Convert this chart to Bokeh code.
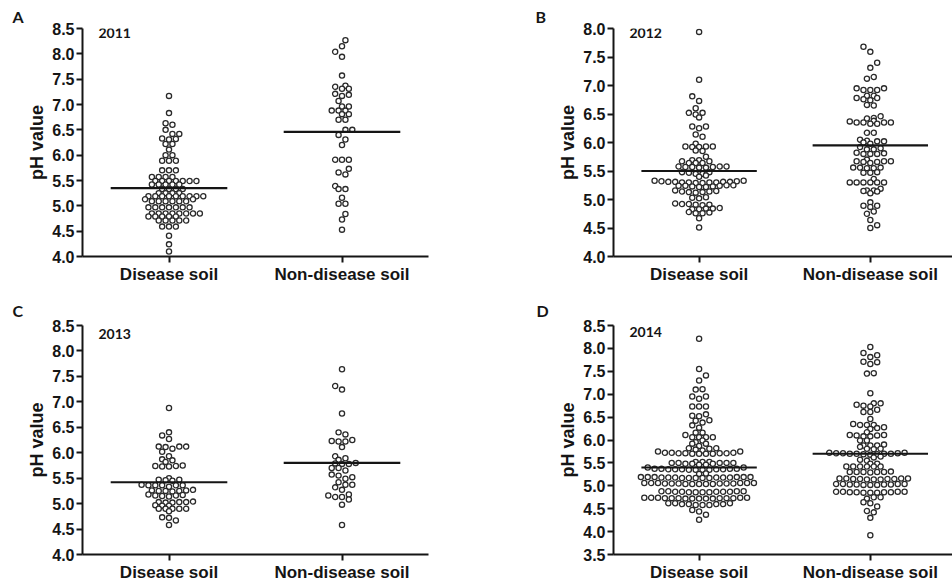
import numpy as np
from bokeh.plotting import figure
from bokeh.layouts import gridplot
from bokeh.models import FixedTicker, Label, Range1d, PrintfTickFormatter
from bokeh.embed import file_html
from bokeh.resources import INLINE

# ---------------- data ----------------
categories = ["Disease soil", "Non-disease soil"]
panel_letters = ["A", "B", "C", "D"]
years = ["2011", "2012", "2013", "2014"]

ph_2011_disease = [
    7.17, 6.83, 6.63, 6.60, 6.50, 6.42, 6.42, 6.33, 6.32, 6.31, 6.22, 6.22, 6.11,
    6.00, 6.00, 5.89, 5.89, 5.89, 5.70, 5.70, 5.70,
    5.57, 5.57, 5.57, 5.57,
    5.49, 5.49, 5.49, 5.49, 5.49, 5.49, 5.49,
    5.42, 5.42, 5.42, 5.42, 5.42,
    5.33, 5.33, 5.33, 5.33,
    5.25, 5.25, 5.25, 5.25,
    5.19, 5.19, 5.19, 5.19, 5.19, 5.19, 5.19, 5.19, 5.19,
    5.13, 5.13,
    5.09, 5.09, 5.09, 5.09, 5.09, 5.09,
    4.97, 4.97, 4.97, 4.97, 4.97, 4.97, 4.97,
    4.85, 4.85, 4.85, 4.85, 4.85, 4.85, 4.85, 4.85,
    4.79, 4.79, 4.79, 4.79, 4.79,
    4.71, 4.71, 4.71, 4.71, 4.71,
    4.59, 4.59, 4.59,
    4.41, 4.24, 4.10,
]
ph_2011_nondisease = [
    8.27, 8.15, 8.04, 7.94, 7.57, 7.37, 7.35, 7.31, 7.31, 7.21, 7.19, 7.17, 7.07,
    6.96, 6.96, 6.88, 6.88, 6.88, 6.81, 6.81, 6.70, 6.70, 6.50, 6.50, 6.40, 6.31,
    6.20, 5.91, 5.91, 5.91, 5.73, 5.66, 5.62, 5.39, 5.33, 5.33, 5.16, 5.04, 5.04,
    4.84, 4.73, 4.53,
]
ph_2012_disease = [
    7.94, 7.10, 6.81, 6.73, 6.60, 6.52, 6.52, 6.49, 6.44, 6.28, 6.28, 6.25, 6.14,
    6.10, 5.98,
    5.93, 5.93, 5.93, 5.92, 5.92, 5.86, 5.85,
    5.75,
    5.69, 5.69, 5.67, 5.67, 5.64, 5.64, 5.64,
    5.58, 5.58, 5.57, 5.57, 5.57, 5.56, 5.56, 5.58,
    5.48, 5.48, 5.47, 5.45, 5.45, 5.42, 5.40,
    5.33, 5.33, 5.32, 5.32, 5.31, 5.31, 5.31, 5.31, 5.30, 5.30, 5.30, 5.30, 5.29, 5.29,
    5.25, 5.25, 5.24, 5.24, 5.24, 5.23, 5.23, 5.22, 5.22,
    5.16, 5.15, 5.14, 5.14, 5.13, 5.13, 5.12,
    5.04, 5.03, 5.02,
    4.93, 4.92, 4.92, 4.91, 4.91, 4.90,
    4.85, 4.84, 4.84, 4.83, 4.83,
    4.78, 4.77, 4.76, 4.76,
    4.67, 4.51,
]
ph_2012_nondisease = [
    7.68, 7.59, 7.40, 7.31, 7.15, 7.12,
    6.95, 6.95, 6.92, 6.92, 6.92,
    6.82, 6.82, 6.78, 6.78, 6.76, 6.74,
    6.66, 6.65, 6.46,
    6.43, 6.42, 6.38, 6.37, 6.35, 6.35, 6.35, 6.35, 6.33, 6.33,
    6.17, 6.17,
    6.05, 6.03, 6.02, 6.02, 6.00, 5.98,
    5.92, 5.90, 5.88, 5.88,
    5.82, 5.81, 5.80, 5.80, 5.80,
    5.70, 5.67, 5.67, 5.67, 5.66, 5.66, 5.64,
    5.56, 5.56, 5.56, 5.55, 5.55,
    5.48, 5.47, 5.47,
    5.36, 5.30, 5.30, 5.30, 5.30, 5.30, 5.30,
    5.19, 5.16, 5.16, 5.15, 5.14, 5.11,
    4.95, 4.89, 4.89, 4.87,
    4.79, 4.75, 4.64, 4.55, 4.50,
]
ph_2013_disease = [
    6.88, 6.40, 6.34, 6.27,
    6.12, 6.12, 6.11, 6.12, 6.08, 6.02,
    5.93,
    5.87, 5.85, 5.82, 5.75, 5.74, 5.74, 5.73, 5.73,
    5.50, 5.47, 5.47, 5.46, 5.45,
    5.37, 5.36, 5.36, 5.36, 5.36, 5.36, 5.33,
    5.27, 5.26, 5.26, 5.25, 5.25, 5.25, 5.24,
    5.18, 5.17, 5.16, 5.16, 5.15, 5.14,
    5.04, 5.03, 5.03, 5.03, 5.02, 5.02,
    4.97, 4.96, 4.96,
    4.90, 4.90, 4.90, 4.90, 4.90,
    4.85,
    4.73, 4.72, 4.67,
    4.58,
]
ph_2013_nondisease = [
    7.64, 7.31, 7.24, 6.77, 6.40, 6.36, 6.25, 6.23, 6.22, 6.22, 6.11, 5.93, 5.89,
    5.86, 5.80, 5.79, 5.78, 5.78, 5.70, 5.70, 5.65, 5.57, 5.55, 5.52, 5.49, 5.42,
    5.37, 5.37, 5.32, 5.27, 5.18, 5.16, 5.13, 5.13, 5.08, 4.98, 4.58,
]
ph_2014_disease = [
    8.21, 7.55, 7.41, 7.30, 7.11, 7.10, 6.95, 6.95, 6.90, 6.73, 6.73, 6.73, 6.56,
    6.53, 6.52, 6.43, 6.42, 6.38, 6.32, 6.27,
    6.16, 6.16, 6.11, 6.06, 6.06, 6.06, 6.06,
    5.99, 5.95, 5.92, 5.92,
    5.87, 5.82, 5.82, 5.81,
    5.79, 5.77, 5.75, 5.75,
    5.72, 5.72, 5.72, 5.71, 5.71, 5.71, 5.71, 5.70, 5.70, 5.70, 5.70,
    5.52, 5.52, 5.52, 5.50, 5.50, 5.50, 5.50, 5.50, 5.48, 5.48, 5.48, 5.46, 5.46,
    5.40, 5.40, 5.37, 5.37, 5.37, 5.37, 5.36, 5.36, 5.36, 5.36, 5.36, 5.35, 5.35, 5.35, 5.35,
    5.27, 5.26,
    5.19, 5.19, 5.19, 5.19, 5.19, 5.19, 5.18, 5.18, 5.18, 5.18, 5.18, 5.18,
    5.17, 5.17, 5.17, 5.17, 5.17,
    5.06, 5.06, 5.06, 5.06, 5.06, 5.06, 5.05, 5.05, 5.05, 5.05, 5.05, 5.05,
    5.04, 5.04, 5.04, 5.04, 5.04,
    4.88, 4.88, 4.88, 4.88, 4.87, 4.87, 4.87, 4.87, 4.87, 4.86, 4.86, 4.86, 4.86,
    4.74, 4.74, 4.74, 4.74, 4.74, 4.73, 4.73, 4.73, 4.73, 4.73, 4.73,
    4.72, 4.72, 4.72, 4.72, 4.72,
    4.62, 4.62, 4.62, 4.60, 4.60, 4.60, 4.60, 4.58, 4.58, 4.58,
    4.47, 4.44, 4.37, 4.26,
]
ph_2014_nondisease = [
    8.03, 7.90, 7.85, 7.81, 7.71, 7.70, 7.66, 7.46, 7.45, 7.02,
    6.80, 6.80, 6.77, 6.75, 6.73, 6.66, 6.61, 6.61, 6.46,
    6.35, 6.33, 6.33, 6.33, 6.28, 6.26, 6.24, 6.17,
    6.11, 6.11, 6.10, 6.10, 6.08, 6.08, 5.99, 5.99,
    5.90, 5.88, 5.88, 5.88, 5.85, 5.81, 5.81, 5.80,
    5.72, 5.72, 5.71, 5.71, 5.71, 5.70, 5.70, 5.70, 5.70, 5.69, 5.69, 5.68,
    5.64, 5.62,
    5.57, 5.55, 5.48, 5.48, 5.42, 5.42, 5.42, 5.42, 5.42, 5.42,
    5.31, 5.30, 5.30, 5.30, 5.30, 5.30, 5.29,
    5.16, 5.16, 5.16, 5.16, 5.15, 5.15, 5.15, 5.15, 5.14, 5.14, 5.14,
    5.04, 5.04, 5.04, 5.04, 5.03, 5.03, 5.03, 5.03, 5.02, 5.02, 5.02,
    4.87, 4.87, 4.87, 4.87, 4.86, 4.86, 4.86, 4.86, 4.85, 4.85, 4.85,
    4.75, 4.75, 4.72,
    4.64, 4.62,
    4.55, 4.45, 4.42,
    4.30, 3.92,
]

# horizontal line drawn in each group (group mean)
mean_2011 = [5.35, 6.46]
mean_2012 = [5.50, 5.95]
mean_2013 = [5.42, 5.80]
mean_2014 = [5.40, 5.70]

yticks_2011 = [4.0, 4.5, 5.0, 5.5, 6.0, 6.5, 7.0, 7.5, 8.0, 8.5]
yticks_2012 = [4.0, 4.5, 5.0, 5.5, 6.0, 6.5, 7.0, 7.5, 8.0]
yticks_2013 = [4.0, 4.5, 5.0, 5.5, 6.0, 6.5, 7.0, 7.5, 8.0, 8.5]
yticks_2014 = [3.5, 4.0, 4.5, 5.0, 5.5, 6.0, 6.5, 7.0, 7.5, 8.0, 8.5]

# ---------------- styling / layout ----------------
INK = "#151515"
AX_FONT = "Liberation Sans"
TAG_FONT = "Lato"
DX = 6.85          # px spacing of dots inside a row
ROW_SPAN = 2.4     # px: values closer than this share a row
SHIFT_COST = 0.05
HALF_LINE = 0.337


def swarm_offsets(vals, ppu_y, ppu_x):
    """Prism-like row layout: rows centred, shifted to avoid overlap."""
    ys = np.asarray(vals, float) * ppu_y
    order = np.argsort(ys, kind="stable")
    rows = []
    for i in order:
        if rows and ys[i] - ys[rows[-1][0]] <= ROW_SPAN:
            rows[-1].append(i)
        else:
            rows.append([i])
    placed = []
    xs = np.zeros(len(ys))
    flip = 1.0
    for row in rows:
        n = len(row)
        base = (np.arange(n) - (n - 1) / 2.0) * DX
        shifts = [0.0, flip * DX / 2, -flip * DX / 2, flip * DX, -flip * DX]
        best = None
        for s in shifts:
            pos = base + s
            pos_sorted = sorted(pos, key=lambda v: (round(abs(v), 6), -flip * v))
            pen = SHIFT_COST * abs(s)
            for idx, xv in zip(row, pos_sorted):
                y = ys[idx]
                for (qx, qy) in placed:
                    if abs(qy - y) < DX:
                        d = np.hypot(xv - qx, y - qy)
                        if d < DX:
                            pen += (DX - d) ** 2
            if best is None or pen < best[0] - 1e-9:
                best = (pen, s, pos_sorted)
        _, s, pos_sorted = best
        if abs(s) > 1e-9 or n % 2 == 0:
            flip = -flip
        for idx, xv in zip(row, pos_sorted):
            placed.append((xv, ys[idx]))
            xs[idx] = xv / ppu_x
    return xs


def make_panel(letter, year, groups, means, yticks, geom):
    fw, fh, bl, br, bt, bb, x_end, letter_off, year_off = geom
    y0, y1 = yticks[0], yticks[-1]
    p = figure(frame_width=fw, frame_height=fh,
               x_range=Range1d(0.5, x_end), y_range=Range1d(y0, y1),
               output_backend="svg", toolbar_location=None,
               min_border_left=bl, min_border_right=br,
               min_border_top=bt, min_border_bottom=bb)
    p.outline_line_color = None
    p.grid.visible = False
    p.background_fill_color = "white"
    p.border_fill_color = "white"

    # panel letter as a left-aligned title pushed to the left of the frame
    p.title.text = letter
    p.title.align = "left"
    p.title.offset = letter_off[0]
    p.title.standoff = letter_off[1]
    p.title.text_font = TAG_FONT
    p.title.text_font_style = "bold"
    p.title.text_font_size = "16px"
    p.title.text_color = INK

    ppu_y = fh / (y1 - y0)
    ppu_x = fw / (x_end - 0.5)
    for k, vals in enumerate(groups):
        xo = swarm_offsets(vals, ppu_y, ppu_x)
        p.scatter(x=list(k + 1 + xo), y=list(vals), marker="circle", size=5.2,
                  fill_color="white", line_color="#2a2a2a", line_width=1.3)
    p.segment(x0=[k + 1 - HALF_LINE for k in range(len(means))],
              x1=[k + 1 + HALF_LINE for k in range(len(means))],
              y0=means, y1=means, line_color=INK, line_width=2.2)

    for ax in (p.xaxis[0], p.yaxis[0]):
        ax.axis_line_color = INK
        ax.axis_line_width = 2
        ax.major_tick_line_color = INK
        ax.major_tick_line_width = 2
        ax.major_tick_out = 6
        ax.major_tick_in = 0
        ax.minor_tick_line_color = None
        ax.major_label_text_font = AX_FONT
        ax.major_label_text_font_style = "bold"
        ax.major_label_text_color = INK

    p.xaxis.ticker = FixedTicker(ticks=[1, 2])
    p.xaxis.major_label_overrides = {1: categories[0], 2: categories[1]}
    p.xaxis.major_label_text_font_size = "17px"
    p.xaxis.major_label_standoff = 2

    p.yaxis.ticker = FixedTicker(ticks=yticks)
    p.yaxis.formatter = PrintfTickFormatter(format="%.1f")
    p.yaxis.major_label_text_font_size = "16px"
    p.yaxis.major_label_standoff = 2
    p.yaxis.axis_label = "pH value"
    p.yaxis.axis_label_text_font = AX_FONT
    p.yaxis.axis_label_text_font_style = "bold"
    p.yaxis.axis_label_text_font_size = "18px"
    p.yaxis.axis_label_text_color = INK
    p.yaxis.axis_label_standoff = 2

    p.add_layout(Label(x=0.5, y=y1, x_offset=year_off[0], y_offset=year_off[1],
                       text=year, text_align="left", text_baseline="middle",
                       text_font=TAG_FONT, text_font_style="bold",
                       text_font_size="14px", text_color=INK))
    return p


# geometry: frame_w, frame_h, border l, r, t, b, x_end,
#           letter (title offset, standoff), year label offset
geom_a = (346, 228, 82, 48, 28, 34, 2.5, (-70, 6), (16, -4))
geom_b = (339, 228, 137, 0, 28, 34, 2.48, (-78, 6), (16, -4))
geom_c = (346, 229, 82, 48, 35, 31, 2.5, (-70, 12), (16, -8))
geom_d = (339, 229, 137, 0, 35, 31, 2.48, (-77, 12), (16, -6))

pa = make_panel(panel_letters[0], years[0], [ph_2011_disease, ph_2011_nondisease],
                mean_2011, yticks_2011, geom_a)
pb = make_panel(panel_letters[1], years[1], [ph_2012_disease, ph_2012_nondisease],
                mean_2012, yticks_2012, geom_b)
pc = make_panel(panel_letters[2], years[2], [ph_2013_disease, ph_2013_nondisease],
                mean_2013, yticks_2013, geom_c)
pd = make_panel(panel_letters[3], years[3], [ph_2014_disease, ph_2014_nondisease],
                mean_2014, yticks_2014, geom_d)

grid = gridplot([[pa, pb], [pc, pd]], toolbar_location=None)

open("out.html", "w").write(file_html(grid, INLINE))
